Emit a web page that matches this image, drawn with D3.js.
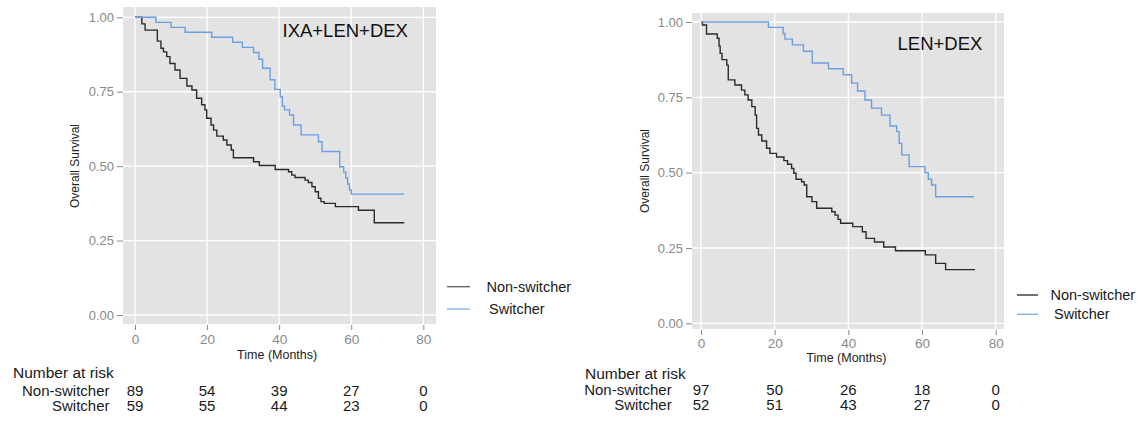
<!DOCTYPE html>
<html>
<head>
<meta charset="utf-8">
<script src="https://cdn.jsdelivr.net/npm/d3@7"></script>
<style>
  html, body { margin: 0; padding: 0; background: #ffffff; }
  svg { display: block; font-family: "Liberation Sans", Arial, sans-serif; }
</style>
</head>
<body>
<svg id="chart" width="1144" height="425"></svg>
<script>
// ---------------- data ----------------
const timeTicks = [0, 20, 40, 60, 80];
const survTicks = [0, 0.25, 0.5, 0.75, 1];
const survTickLabels = ["0.00", "0.25", "0.50", "0.75", "1.00"];
const groups = ["Non-switcher", "Switcher"];
const panelTitles = ["IXA+LEN+DEX", "LEN+DEX"];

// IXA+LEN+DEX
const ixaNonSwitcherTime = [0, 1.9, 2.8, 6.2, 7.2, 7.9, 8.8, 9.7, 11.1, 12.5, 14.4, 15.8, 17.1, 18.5, 19.4, 19.9, 21.1, 21.8, 22.7, 24.5, 25.5, 26.7, 27.3, 32.9, 34.5, 38.9, 42.6, 43.5, 44.4, 47.2, 48.1, 49.1, 50.0, 50.9, 51.6, 52.5, 55.6, 62.0, 66.4, 74.7];
const ixaNonSwitcherSurv = [1, 0.978, 0.957, 0.92, 0.896, 0.884, 0.868, 0.845, 0.823, 0.795, 0.769, 0.756, 0.728, 0.706, 0.689, 0.661, 0.638, 0.621, 0.601, 0.588, 0.571, 0.554, 0.528, 0.515, 0.502, 0.489, 0.481, 0.470, 0.462, 0.453, 0.445, 0.431, 0.414, 0.392, 0.381, 0.375, 0.364, 0.352, 0.310, 0.310];
const ixaSwitcherTime = [0, 5.8, 10.0, 13.9, 21.3, 27.1, 29.8, 32.9, 34.4, 35.4, 37.5, 38.8, 40.3, 40.9, 41.5, 42.9, 44.0, 46.1, 50.9, 51.9, 56.8, 57.9, 58.5, 59.0, 59.5, 60.0, 74.7];
const ixaSwitcherSurv = [1, 0.983, 0.966, 0.950, 0.933, 0.916, 0.899, 0.882, 0.859, 0.829, 0.790, 0.758, 0.733, 0.702, 0.689, 0.672, 0.638, 0.605, 0.582, 0.549, 0.498, 0.480, 0.460, 0.440, 0.420, 0.406, 0.406];
const ixaRiskNonSwitcher = [89, 54, 39, 27, 0];
const ixaRiskSwitcher = [59, 55, 44, 23, 0];

// LEN+DEX
const ldNonSwitcherTime = [0, 0.4, 1.5, 4.4, 4.9, 5.2, 5.7, 7.0, 7.4, 9.2, 11.0, 11.9, 12.8, 13.8, 14.7, 15.1, 15.6, 16.5, 17.8, 18.7, 20.5, 22.5, 23.5, 24.6, 25.2, 25.8, 27.3, 28.0, 28.7, 30.1, 31.4, 35.5, 36.4, 37.2, 37.9, 41.2, 43.8, 44.8, 47.1, 49.6, 52.8, 60.9, 63.7, 66.4, 74.4];
const ldNonSwitcherSurv = [1, 0.99, 0.96, 0.946, 0.92, 0.896, 0.875, 0.857, 0.808, 0.791, 0.774, 0.758, 0.741, 0.719, 0.691, 0.647, 0.625, 0.605, 0.581, 0.564, 0.552, 0.540, 0.528, 0.514, 0.498, 0.478, 0.470, 0.459, 0.420, 0.404, 0.382, 0.370, 0.359, 0.345, 0.332, 0.321, 0.304, 0.282, 0.270, 0.253, 0.241, 0.227, 0.199, 0.178, 0.178];
const ldSwitcherTime = [0, 18.3, 22.3, 22.8, 24.8, 27.8, 30.2, 34.6, 38.6, 40.9, 42.5, 44.5, 46.3, 49.0, 51.3, 53.1, 53.8, 54.5, 56.5, 60.8, 61.7, 62.6, 63.7, 74.1];
const ldSwitcherSurv = [1, 0.982, 0.962, 0.943, 0.924, 0.903, 0.864, 0.845, 0.825, 0.797, 0.771, 0.741, 0.714, 0.691, 0.655, 0.636, 0.597, 0.559, 0.520, 0.500, 0.478, 0.459, 0.420, 0.420];
const ldRiskNonSwitcher = [97, 50, 26, 18, 0];
const ldRiskSwitcher = [52, 51, 43, 27, 0];

// ---------------- drawing ----------------
const svg = d3.select("#chart");
const colors = { "Non-switcher": "#2b2b2b", "Switcher": "#6c9fe2" };

function zip(ts, ss) { return ts.map((t, i) => ({ t: t, s: ss[i] })); }

function drawPanel(cfg) {
  const g = svg.append("g");
  const x = d3.scaleLinear().domain([0, 80]).range([cfg.x0, cfg.x80]);
  const y = d3.scaleLinear().domain([0, 1]).range([cfg.y0, cfg.y1]);

  // panel background
  g.append("rect")
    .attr("x", cfg.bgLeft).attr("y", cfg.bgTop)
    .attr("width", cfg.bgRight - cfg.bgLeft).attr("height", cfg.bgBottom - cfg.bgTop)
    .attr("fill", "#e3e3e3");

  // grid lines
  g.selectAll(".vg").data(timeTicks).enter().append("line")
    .attr("x1", d => x(d)).attr("x2", d => x(d))
    .attr("y1", cfg.bgTop).attr("y2", cfg.bgBottom)
    .attr("stroke", "#ffffff").attr("stroke-width", 1.3);
  g.selectAll(".hg").data(survTicks).enter().append("line")
    .attr("y1", d => y(d)).attr("y2", d => y(d))
    .attr("x1", cfg.bgLeft).attr("x2", cfg.bgRight)
    .attr("stroke", "#ffffff").attr("stroke-width", 1.3);

  // x axis
  const xAxis = d3.axisBottom(x).tickValues(timeTicks).tickSize(5).tickPadding(cfg.xTickPad);
  const xg = g.append("g").attr("transform", `translate(0,${cfg.bgBottom + 1})`).call(xAxis);
  xg.select(".domain").remove();
  xg.selectAll(".tick line").attr("stroke", "#8a8a8a");
  xg.selectAll(".tick text").attr("fill", "#8a8a8a").style("font-size", "13.5px")
    .style("font-family", "'Liberation Sans', Arial, sans-serif");

  // y axis
  const yAxis = d3.axisLeft(y).tickValues(survTicks)
    .tickFormat((d, i) => survTickLabels[i]).tickSize(6).tickPadding(3);
  const yg = g.append("g").attr("transform", `translate(${cfg.bgLeft},0)`).call(yAxis);
  yg.select(".domain").remove();
  yg.selectAll(".tick line").attr("stroke", "#8a8a8a");
  yg.selectAll(".tick text").attr("fill", "#8a8a8a").style("font-size", "13px")
    .style("font-family", "'Liberation Sans', Arial, sans-serif");

  // curves
  const line = d3.line().x(d => x(d.t)).y(d => y(d.s)).curve(d3.curveStepAfter);
  cfg.series.forEach(sr => {
    g.append("path").datum(zip(sr.time, sr.surv))
      .attr("d", line).attr("fill", "none")
      .attr("stroke", colors[sr.name]).attr("stroke-width", 1.4);
  });

  // panel title
  g.append("text").attr("x", cfg.titleX).attr("y", cfg.titleY)
    .attr("fill", "#111").style("font-size", "18.5px").text(cfg.title);

  // axis titles
  g.append("text").attr("x", x(40) - 2).attr("y", cfg.xTitleY)
    .attr("text-anchor", "middle").attr("dominant-baseline", "central")
    .attr("fill", "#222").style("font-size", "12.5px").text("Time (Months)");
  g.append("text")
    .attr("transform", `translate(${cfg.yTitleX},${cfg.yTitleY}) rotate(-90)`)
    .attr("text-anchor", "middle").attr("dominant-baseline", "central")
    .attr("fill", "#222").style("font-size", "12px").text("Overall Survival");

  // legend
  groups.forEach((name, i) => {
    g.append("line")
      .attr("x1", cfg.legX1).attr("x2", cfg.legX2)
      .attr("y1", cfg.legY[i]).attr("y2", cfg.legY[i])
      .attr("stroke", cfg.legColors[i]).attr("stroke-width", 1.3);
    g.append("text").attr("x", cfg.legTextX[i]).attr("y", cfg.legY[i])
      .attr("dominant-baseline", "central").attr("fill", "#1a1a1a")
      .style("font-size", "14.5px").text(name);
  });

  // number at risk table
  g.append("text").attr("x", cfg.riskTitleX).attr("y", cfg.riskY[0])
    .attr("dominant-baseline", "central").attr("fill", "#1a1a1a")
    .style("font-size", "15.5px").text("Number at risk");
  groups.forEach((name, i) => {
    g.append("text").attr("x", cfg.riskLabelRight).attr("y", cfg.riskY[i + 1])
      .attr("text-anchor", "end").attr("dominant-baseline", "central")
      .attr("fill", "#1a1a1a").style("font-size", "15px").text(name);
    g.selectAll(null).data(cfg.risk[i]).enter().append("text")
      .attr("x", (d, j) => x(timeTicks[j]))
      .attr("y", cfg.riskY[i + 1])
      .attr("text-anchor", "middle").attr("dominant-baseline", "central")
      .attr("fill", "#1a1a1a").style("font-size", "15px").text(d => d);
  });
}

drawPanel({
  x0: 135, x80: 423.3, y0: 315, y1: 17.3,
  bgLeft: 123, bgRight: 436, bgTop: 7, bgBottom: 324,
  xTickPad: 4,
  series: [
    { name: "Non-switcher", time: ixaNonSwitcherTime, surv: ixaNonSwitcherSurv },
    { name: "Switcher", time: ixaSwitcherTime, surv: ixaSwitcherSurv }
  ],
  title: panelTitles[0], titleX: 282.5, titleY: 36.5,
  xTitleY: 354.5, yTitleX: 75, yTitleY: 166,
  legX1: 447, legX2: 470, legY: [286.7, 309], legTextX: [486.5, 489],
  legColors: ["#5a5a5a", "#7aaee0"],
  riskTitleX: 13, riskY: [372, 390, 405], riskLabelRight: 109.5,
  risk: [ixaRiskNonSwitcher, ixaRiskSwitcher]
});

drawPanel({
  x0: 701, x80: 995.7, y0: 323.3, y1: 22,
  bgLeft: 692, bgRight: 1004, bgTop: 13, bgBottom: 329,
  xTickPad: 3,
  series: [
    { name: "Non-switcher", time: ldNonSwitcherTime, surv: ldNonSwitcherSurv },
    { name: "Switcher", time: ldSwitcherTime, surv: ldSwitcherSurv }
  ],
  title: panelTitles[1], titleX: 897.5, titleY: 50,
  xTitleY: 358, yTitleX: 645, yTitleY: 171,
  legX1: 1017, legX2: 1038, legY: [295, 314.3], legTextX: [1050.5, 1054],
  legColors: ["#222222", "#7aaee0"],
  riskTitleX: 585, riskY: [373, 389.5, 404.5], riskLabelRight: 671.7,
  risk: [ldRiskNonSwitcher, ldRiskSwitcher]
});
</script>
</body>
</html>
